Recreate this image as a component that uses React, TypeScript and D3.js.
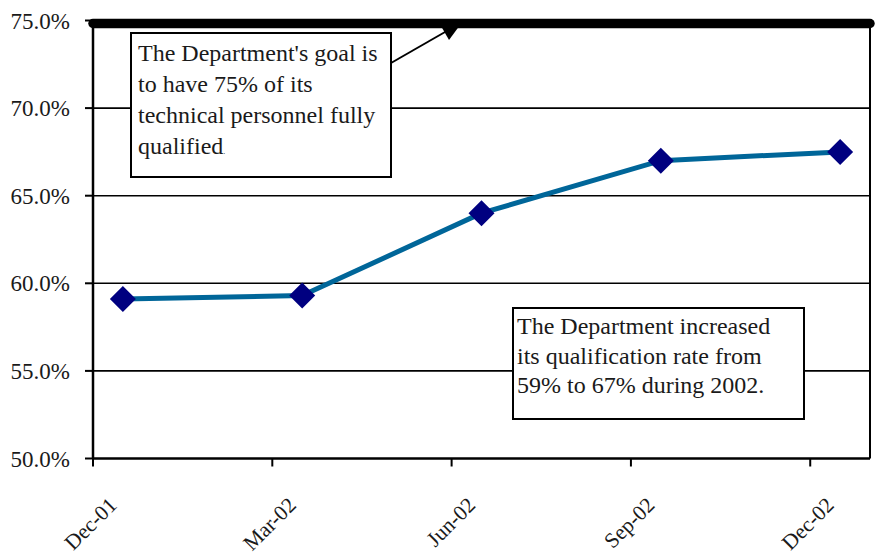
import React from "react";
import * as d3 from "d3";

const categories = ["Dec-01", "Mar-02", "Jun-02", "Sep-02", "Dec-02"];
const tickMonths = [0, 3, 6, 9, 12];
const pointMonths = [0.5, 3.5, 6.5, 9.5, 12.5];
const rates = [0.591, 0.593, 0.64, 0.67, 0.675];
const goal = 0.75;
const yTicks = [0.5, 0.55, 0.6, 0.65, 0.7, 0.75];
const goalText = ["The Department's goal is", "to have 75% of its", "technical personnel fully", "qualified"];
const noteText = ["The Department increased", "its qualification rate from", "59% to 67% during 2002."];

const W = 877;
const H = 555;
const FONT = "Liberation Serif";

export default function App() {
  const x = d3.scaleLinear().domain([0, 13]).range([93, 870]);
  const y = d3.scaleLinear().domain([0.5, 0.75]).range([458.5, 20.5]);
  const fmt = d3.format(".1%");
  const line = d3
    .line<number>()
    .x((_, i) => x(pointMonths[i]))
    .y((d) => y(d));
  const [x0, x1] = x.range();
  const diamond = (cx: number, cy: number, r: number) =>
    `M${cx},${cy - r}L${cx + r},${cy}L${cx},${cy + r}L${cx - r},${cy}Z`;
  const ts = { fontFamily: FONT };

  return (
    <svg
      width={W}
      height={H}
      style={{ position: "absolute", left: 0, top: 0, background: "#fff", fontFamily: FONT }}
    >
      <rect x={0} y={0} width={W} height={H} fill="#fff" />
      {yTicks.slice(1, -1).map((t) => (
        <line key={t} x1={x0} x2={x1} y1={y(t)} y2={y(t)} stroke="#000" strokeWidth={1.6} />
      ))}
      {yTicks.map((t) => (
        <g key={"yt" + t}>
          <line x1={x0 - 8} x2={x0} y1={y(t)} y2={y(t)} stroke="#000" strokeWidth={2} />
          <text x={70} y={y(t) + 8} textAnchor="end" fontSize={23} fill="#1a1a1a" style={ts}>
            {fmt(t)}
          </text>
        </g>
      ))}
      <line x1={x1} x2={x1} y1={y(0.75)} y2={y(0.5)} stroke="#000" strokeWidth={2} />
      <line x1={x0} x2={x1} y1={y(0.5)} y2={y(0.5)} stroke="#000" strokeWidth={2.5} />
      <line x1={x0} x2={x0} y1={y(0.75)} y2={y(0.5)} stroke="#000" strokeWidth={2.5} />
      {tickMonths.map((m, i) => (
        <g key={"xt" + m}>
          <line x1={x(m)} x2={x(m)} y1={y(0.5)} y2={y(0.5) + 8} stroke="#000" strokeWidth={2} />
          <text
            transform={`translate(${x(m) + 25},${y(0.5) + 48}) rotate(-45)`}
            textAnchor="end"
            fontSize={21.5}
            fill="#1a1a1a"
            style={ts}
          >
            {categories[i]}
          </text>
        </g>
      ))}
      <line
        x1={x0}
        x2={x1}
        y1={y(goal) + 3}
        y2={y(goal) + 3}
        stroke="#000"
        strokeWidth={9.5}
        strokeLinecap="round"
      />
      <path d={line(rates) || ""} fill="none" stroke="#006699" strokeWidth={5} />
      {rates.map((v, i) => (
        <path key={"m" + i} d={diamond(x(pointMonths[i]), y(v), 13)} fill="#000080" />
      ))}
      <line x1={391} y1={63} x2={452} y2={28} stroke="#000" strokeWidth={2} />
      <path d="M463,21L441,26L449,40Z" fill="#000" />
      <rect x={131} y={33} width={260} height={144} fill="#fff" stroke="#000" strokeWidth={2} />
      {goalText.map((s, i) => (
        <text key={"g" + i} x={138} y={61 + i * 31} fontSize={24} fill="#1a1a1a" style={ts}>
          {s}
          {i === goalText.length - 1 ? <tspan fontSize={8}>.</tspan> : null}
        </text>
      ))}
      <rect x={513} y={308} width={291} height={111} fill="#fff" stroke="#000" strokeWidth={2} />
      {noteText.map((s, i) => (
        <text key={"n" + i} x={517} y={334 + i * 29.5} fontSize={24} fill="#1a1a1a" style={ts}>
          {s}
        </text>
      ))}
    </svg>
  );
}
